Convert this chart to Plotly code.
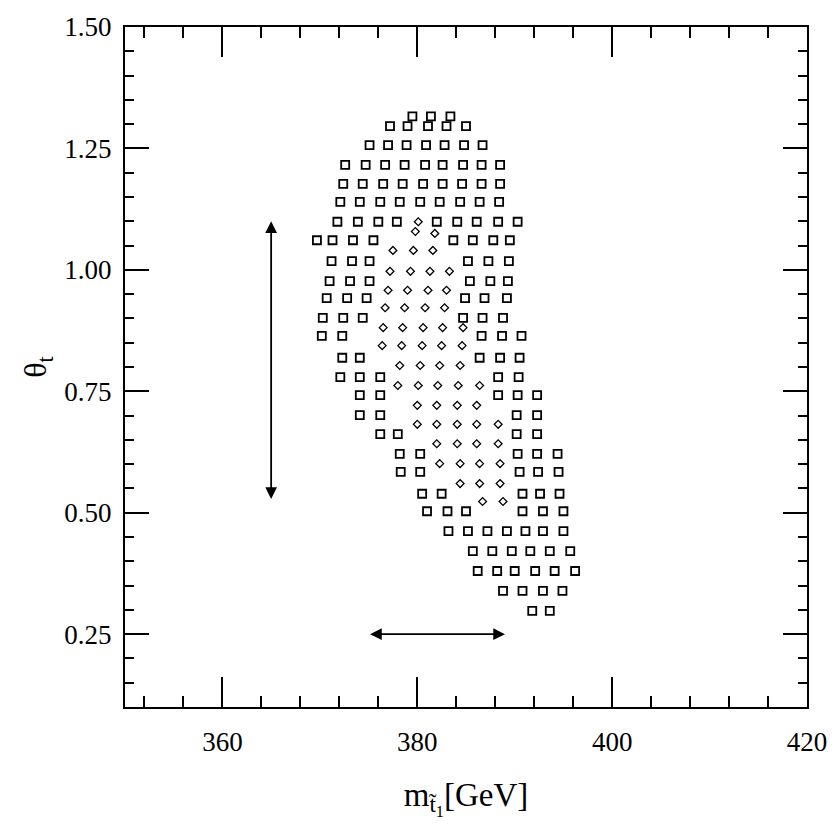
import plotly.graph_objects as go

# ---------------- data ----------------
# squares: rows of (theta_t, [m_stop1 values])
square_rows = [
    (1.316, [379.5, 381.4, 383.4]),
    (1.296, [377.2, 379.0, 381.1, 383.0, 385.0]),
    (1.257, [375.1, 377.0, 378.9, 380.9, 382.8, 384.8, 386.7]),
    (1.216, [372.6, 374.7, 376.7, 378.7, 380.8, 382.6, 384.7, 386.6, 388.5]),
    (1.177, [372.4, 374.4, 376.5, 378.5, 380.6, 382.6, 384.6, 386.6, 388.5]),
    (1.140, [372.1, 374.1, 376.2, 378.2, 380.3, 382.3, 384.4, 386.4, 388.4]),
    (1.099, [371.8, 373.9, 376.0, 377.9, 382.0, 384.1, 386.1, 388.3, 390.3]),
    (1.061, [369.7, 371.3, 373.4, 375.5, 383.7, 385.7, 387.8, 389.5]),
    (1.018, [371.2, 373.3, 375.1, 385.2, 387.3, 389.4]),
    (0.977, [371.0, 373.1, 375.1, 385.4, 387.5, 389.3]),
    (0.942, [370.7, 372.8, 374.8, 384.9, 386.9, 389.2]),
    (0.901, [370.3, 372.4, 374.4, 384.7, 386.7, 388.8]),
    (0.864, [370.2, 372.3, 386.6, 388.7, 390.7]),
    (0.819, [372.3, 374.1, 386.4, 388.5, 390.5]),
    (0.779, [372.1, 374.1, 376.2, 388.3, 390.4]),
    (0.742, [374.1, 376.2, 388.3, 390.3, 392.3]),
    (0.701, [374.1, 376.2, 390.2, 392.3]),
    (0.662, [376.2, 378.0, 390.2, 392.3]),
    (0.621, [378.2, 380.3, 390.3, 392.3, 394.4]),
    (0.584, [378.3, 380.3, 390.5, 392.4, 394.5]),
    (0.539, [380.5, 382.5, 390.8, 392.6, 394.6]),
    (0.503, [381.0, 383.1, 385.0, 390.8, 392.9, 395.0]),
    (0.462, [383.2, 385.2, 387.2, 389.2, 391.1, 392.9, 395.0]),
    (0.421, [385.7, 387.7, 389.7, 391.6, 393.6, 395.7]),
    (0.380, [386.2, 388.2, 390.0, 392.1, 394.1, 396.2]),
    (0.339, [388.8, 390.8, 392.9, 394.9]),
    (0.298, [391.8, 393.6]),
]

# small open markers (inner region): rows of (theta_t, [m_stop1 values])
diamond_rows = [
    (1.099, [380.1]),
    (1.079, [379.8]),
    (1.075, [381.8]),
    (1.040, [377.5, 379.6, 381.6]),
    (0.997, [377.2, 379.3, 381.3, 383.3]),
    (0.958, [377.0, 379.0, 381.1, 383.0]),
    (0.922, [376.7, 378.7, 380.8, 382.8]),
    (0.881, [376.5, 378.5, 380.6, 382.6, 384.7]),
    (0.844, [376.4, 378.4, 380.5, 382.5, 384.6]),
    (0.803, [378.2, 380.3, 382.3, 384.4]),
    (0.762, [378.0, 380.1, 382.1, 384.2, 386.4]),
    (0.721, [380.0, 382.0, 384.1, 386.1]),
    (0.682, [380.0, 382.0, 384.1, 386.1, 388.3]),
    (0.642, [382.0, 384.1, 386.1, 388.3]),
    (0.601, [382.3, 384.4, 386.4, 388.5]),
    (0.560, [384.4, 386.4, 388.5]),
    (0.523, [386.7, 388.8]),
]

# error arrows
theta_arrow_m = 365.0
theta_arrow_range = [0.525, 1.100]
mass_arrow_theta = 0.25
mass_arrow_range = [375.0, 389.0]

x_range = [350, 420]
y_range = [0.10, 1.50]
x_ticks = [360, 380, 400, 420]
y_ticks = [0.25, 0.50, 0.75, 1.00, 1.25, 1.50]

# ---------------- build ----------------
sq_m = [m for th, ms in square_rows for m in ms]
sq_t = [th for th, ms in square_rows for m in ms]
di_m = [m for th, ms in diamond_rows for m in ms]
di_t = [th for th, ms in diamond_rows for m in ms]

fig = go.Figure()
fig.add_trace(go.Scatter(
    x=sq_m, y=sq_t, mode="markers",
    marker=dict(symbol="square-open", size=8, color="black", line=dict(width=1.8, color="black")),
    showlegend=False, hoverinfo="skip"))
fig.add_trace(go.Scatter(
    x=di_m, y=di_t, mode="markers",
    marker=dict(symbol="diamond-open", size=6, color="black", line=dict(width=1.3, color="black")),
    showlegend=False, hoverinfo="skip"))

# arrows (double headed)
fig.add_annotation(x=theta_arrow_m, y=theta_arrow_range[1], ax=theta_arrow_m, ay=theta_arrow_range[0],
                   xref="x", yref="y", axref="x", ayref="y", text="", showarrow=True,
                   arrowhead=2, startarrowhead=2, arrowside="end+start", arrowsize=1.3, startarrowsize=1.3,
                   arrowwidth=1.8, arrowcolor="black")
fig.add_annotation(x=mass_arrow_range[1], y=mass_arrow_theta, ax=mass_arrow_range[0], ay=mass_arrow_theta,
                   xref="x", yref="y", axref="x", ayref="y", text="", showarrow=True,
                   arrowhead=2, startarrowhead=2, arrowside="end+start", arrowsize=1.3, startarrowsize=1.3,
                   arrowwidth=1.8, arrowcolor="black")

tick_font = dict(family="Liberation Serif", size=27, color="black")

fig.update_xaxes(
    range=x_range, tickmode="array", tickvals=x_ticks, ticktext=[str(v) for v in x_ticks],
    ticks="inside", ticklen=30, tickwidth=1.8, tickcolor="black",
    minor=dict(tick0=360, dtick=4, ticks="inside", ticklen=11, tickwidth=1.8, tickcolor="black"),
    showline=True, linecolor="black", linewidth=2, mirror="allticks",
    showgrid=False, zeroline=False, tickfont=tick_font, ticklabelstandoff=10,
    title=dict(text="m<sub>t̃<sub>1</sub></sub>[GeV]", font=dict(family="Liberation Serif", size=33, color="black"),
               standoff=26),
)
fig.update_yaxes(
    range=y_range, tickmode="array", tickvals=y_ticks, ticktext=["%.2f" % v for v in y_ticks],
    ticks="inside", ticklen=24, tickwidth=1.8, tickcolor="black",
    minor=dict(tick0=0, dtick=0.05, ticks="inside", ticklen=9, tickwidth=1.8, tickcolor="black"),
    showline=True, linecolor="black", linewidth=2, mirror="allticks",
    showgrid=False, zeroline=False, tickfont=tick_font, ticklabelstandoff=6,
    title=dict(text="θ<sub>t</sub>", font=dict(family="Liberation Serif", size=32, color="black"), standoff=8),
)

fig.update_layout(
    width=840, height=837,
    margin=dict(l=125, r=33, t=22, b=130),
    paper_bgcolor="white", plot_bgcolor="white",
)

fig.write_html("out.html")
